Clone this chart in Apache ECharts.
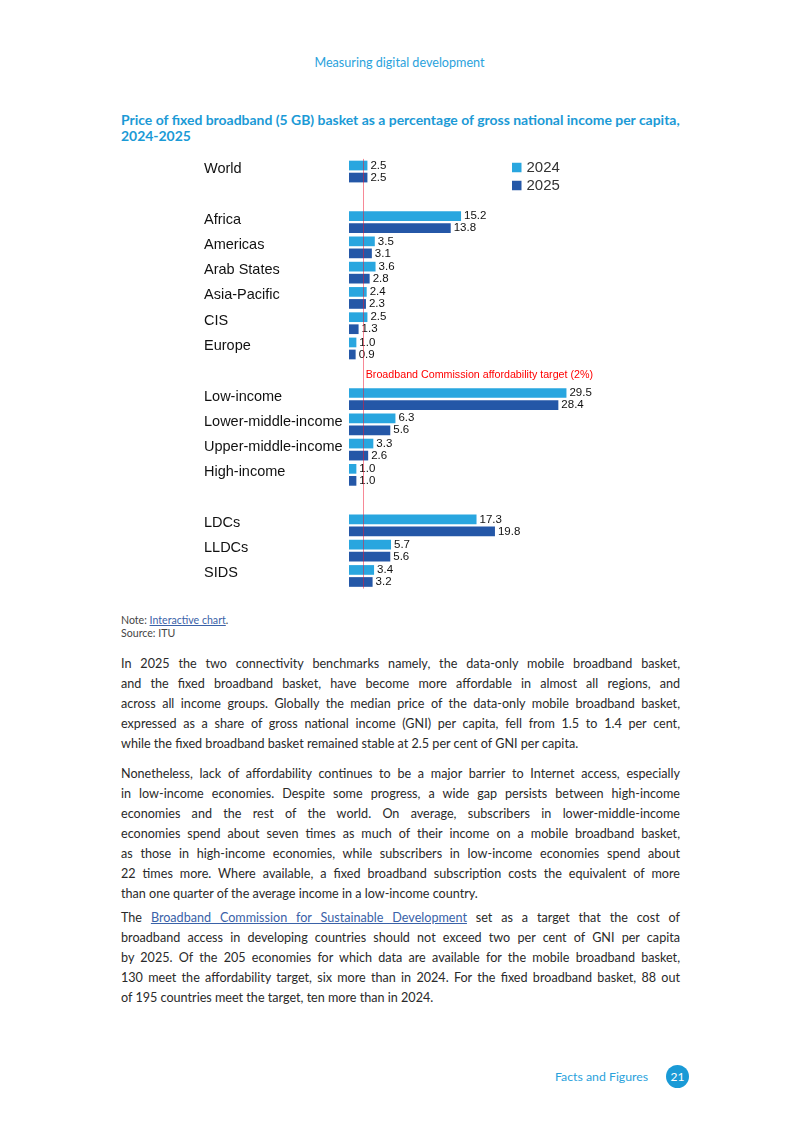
<!DOCTYPE html>
<html>
<head>
<meta charset="utf-8">
<script src="https://cdn.jsdelivr.net/npm/echarts@6/dist/echarts.min.js"></script>
<style>
  html, body { margin:0; padding:0; background:#fff; }
  body { width:793px; height:1121px; position:relative; overflow:hidden; font-family:"Lato","Noto Sans",sans-serif; }
  .abs { position:absolute; }
  #header { left:0; width:799px; top:55px; text-align:center; font-size:12.6px; color:#2aa2dc; }
  #title { left:121px; top:112px; width:580px; font-size:13.95px; font-weight:bold; color:#1b9ad6; line-height:15.5px; white-space:nowrap; }
  #chart { left:0; top:150px; width:793px; height:450px; }
  #note { left:121px; top:614px; font-size:10.6px; color:#444; line-height:13px; }
  #note a { color:#3a62a8; text-decoration:underline; }
  .para { left:121px; width:559px; font-size:12.6px; line-height:20px; color:#2a2a2a; }
  .para div { text-align:justify; text-align-last:justify; }
  .para div.last { text-align-last:left; }
  .para a { color:#3a62a8; text-decoration:underline; }
  #footer { left:555px; top:1069px; font-size:12.3px; color:#2aa2dc; }
  #pagenum { left:666px; top:1065px; width:23px; height:23px; border-radius:50%; background:#1a9ad6; color:#fff; font-size:12px; text-align:center; line-height:23px; }
</style>
</head>
<body>
<div id="header" class="abs">Measuring digital development</div>
<div id="title" class="abs">Price of fixed broadband (5 GB) basket as a percentage of gross national income per capita,<br>2024-2025</div>
<div id="chart" class="abs"></div>
<div id="note" class="abs">Note: <a>Interactive chart</a>.<br>Source: ITU</div>

<div class="para abs" style="top:654px">
<div>In 2025 the two connectivity benchmarks namely, the data-only mobile broadband basket,</div>
<div>and the fixed broadband basket, have become more affordable in almost all regions, and</div>
<div>across all income groups. Globally the median price of the data-only mobile broadband basket,</div>
<div>expressed as a share of gross national income (GNI) per capita, fell from 1.5 to 1.4 per cent,</div>
<div class="last">while the fixed broadband basket remained stable at 2.5 per cent of GNI per capita.</div>
</div>

<div class="para abs" style="top:764px">
<div>Nonetheless, lack of affordability continues to be a major barrier to Internet access, especially</div>
<div>in low-income economies. Despite some progress, a wide gap persists between high-income</div>
<div>economies and the rest of the world. On average, subscribers in lower-middle-income</div>
<div>economies spend about seven times as much of their income on a mobile broadband basket,</div>
<div>as those in high-income economies, while subscribers in low-income economies spend about</div>
<div>22 times more. Where available, a fixed broadband subscription costs the equivalent of more</div>
<div class="last">than one quarter of the average income in a low-income country.</div>
</div>

<div class="para abs" style="top:908px">
<div>The <a>Broadband Commission for Sustainable Development</a> set as a target that the cost of</div>
<div>broadband access in developing countries should not exceed two per cent of GNI per capita</div>
<div>by 2025. Of the 205 economies for which data are available for the mobile broadband basket,</div>
<div>130 meet the affordability target, six more than in 2024. For the fixed broadband basket, 88 out</div>
<div class="last">of 195 countries meet the target, ten more than in 2024.</div>
</div>

<div id="footer" class="abs">Facts and Figures</div>
<div id="pagenum" class="abs">21</div>

<script>
// Categories (blank entries are spacer rows between groups)
var categories = ['World', ' ', 'Africa', 'Americas', 'Arab States', 'Asia-Pacific', 'CIS', 'Europe', '  ',
  'Low-income', 'Lower-middle-income', 'Upper-middle-income', 'High-income', '   ',
  'LDCs', 'LLDCs', 'SIDS'];
var values2024 = [2.5, null, 15.2, 3.5, 3.6, 2.4, 2.5, 1.0, null, 29.5, 6.3, 3.3, 1.0, null, 17.3, 5.7, 3.4];
var values2025 = [2.5, null, 13.8, 3.1, 2.8, 2.3, 1.3, 0.9, null, 28.4, 5.6, 2.6, 1.0, null, 19.8, 5.6, 3.2];
var seriesNames = ['2024', '2025'];
var targetValue = 2;
var targetLabel = 'Broadband Commission affordability target (2%)';
var targetLabelRow = 8;

var FONT = 'Liberation Sans, Arial, sans-serif';
var chart = echarts.init(document.getElementById('chart'), null, {renderer: 'canvas'});
var labelStyle = {
  show: true, position: 'right', distance: 3,
  fontFamily: FONT, fontSize: 11.5, color: '#111',
  formatter: function (p) { return p.value == null ? '' : p.value.toFixed(1); }
};
chart.setOption({
  animation: false,
  textStyle: { fontFamily: FONT },
  grid: { left: 349, top: 8.9, width: 258, height: 429.7, containLabel: false },
  legend: {
    orient: 'vertical', left: 512, top: 10, padding: 0, itemWidth: 9.5, itemHeight: 9.5, itemGap: 3,
    icon: 'rect',
    textStyle: { fontSize: 15, color: '#333', fontFamily: FONT },
    data: seriesNames
  },
  xAxis: { type: 'value', min: 0, max: 35, show: false, splitLine: { show: false } },
  yAxis: {
    type: 'category', inverse: true, data: categories,
    axisLine: { show: false }, axisTick: { show: false }, splitLine: { show: false },
    axisLabel: {
      align: 'left', margin: 145, interval: 0, verticalAlign: 'middle',
      formatter: function (v) { return '{a|' + v + '}'; },
      rich: { a: { fontSize: 14.5, color: '#111', fontFamily: FONT, padding: [0, 0, 5, 0] } }
    }
  },
  series: [
    {
      name: seriesNames[0], type: 'bar', data: values2024, barWidth: 9.7, barGap: '24%',
      itemStyle: { color: '#29a6df' }, label: labelStyle
    },
    {
      name: seriesNames[1], type: 'bar', data: values2025, barWidth: 9.7, barGap: '24%',
      itemStyle: { color: '#2457a7' }, label: labelStyle,
      markLine: {
        silent: true, symbol: 'none', z: 10,
        lineStyle: { color: 'rgba(240,20,45,0.5)', width: 1, type: 'solid' },
        label: { show: false },
        data: [{ xAxis: targetValue }]
      },
      markPoint: {
        silent: true,
        data: [{
          coord: [targetValue, targetLabelRow], symbol: 'circle', symbolSize: 1,
          itemStyle: { color: 'rgba(0,0,0,0)' },
          label: {
            show: true, position: 'right', distance: 1.5, offset: [0, -5], formatter: targetLabel,
            color: '#ff0000', fontSize: 10.7, fontFamily: FONT
          }
        }]
      }
    }
  ]
});
</script>
</body>
</html>
